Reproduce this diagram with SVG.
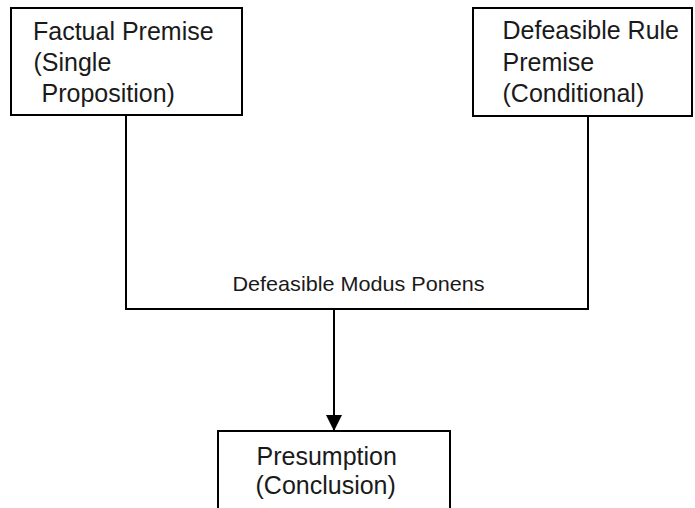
<svg xmlns="http://www.w3.org/2000/svg" width="695" height="508" viewBox="0 0 695 508">
<defs>
<style>
.box{fill:#fff;stroke:#000;stroke-width:2}
.t{font-family:"Liberation Sans",Arial,sans-serif;font-size:25px;fill:#1a1a1a}
.lbl{font-family:"Liberation Sans",Arial,sans-serif;font-size:21px;fill:#1a1a1a}
.ln{fill:none;stroke:#000;stroke-width:2}
</style>
<marker id="ah" markerWidth="16" markerHeight="16" viewBox="0 0 16 16" refX="16" refY="8" orient="auto" markerUnits="userSpaceOnUse">
<path d="M0,0 L16,8 L0,16 Z" fill="#000"/>
</marker>
</defs>
<rect width="695" height="508" fill="#fff"/>
<g id="connectors">
<polyline class="ln" points="126,115 126,309 588,309 588,116"/>
<line class="ln" x1="334" y1="309" x2="334" y2="431" marker-end="url(#ah)"/>
<text class="lbl" x="232.5" y="290.5" textLength="252" lengthAdjust="spacingAndGlyphs">Defeasible Modus Ponens</text>
</g>
<g id="factual">
<rect class="box" x="11" y="8" width="231" height="107"/>
<text class="t" x="33" y="40">Factual Premise</text>
<text class="t" x="33.5" y="71">(Single</text>
<text class="t" x="41.5" y="102">Proposition)</text>
</g>
<g id="rule">
<rect class="box" x="473" y="8" width="219" height="108"/>
<text class="t" x="502.5" y="38.5">Defeasible Rule</text>
<text class="t" x="502.5" y="70.5">Premise</text>
<text class="t" x="502.5" y="101.5">(Conditional)</text>
</g>
<g id="presumption">
<rect class="box" x="218" y="431" width="232" height="80"/>
<text class="t" x="256.5" y="464.5">Presumption</text>
<text class="t" x="255.5" y="494">(Conclusion)</text>
</g>
</svg>
